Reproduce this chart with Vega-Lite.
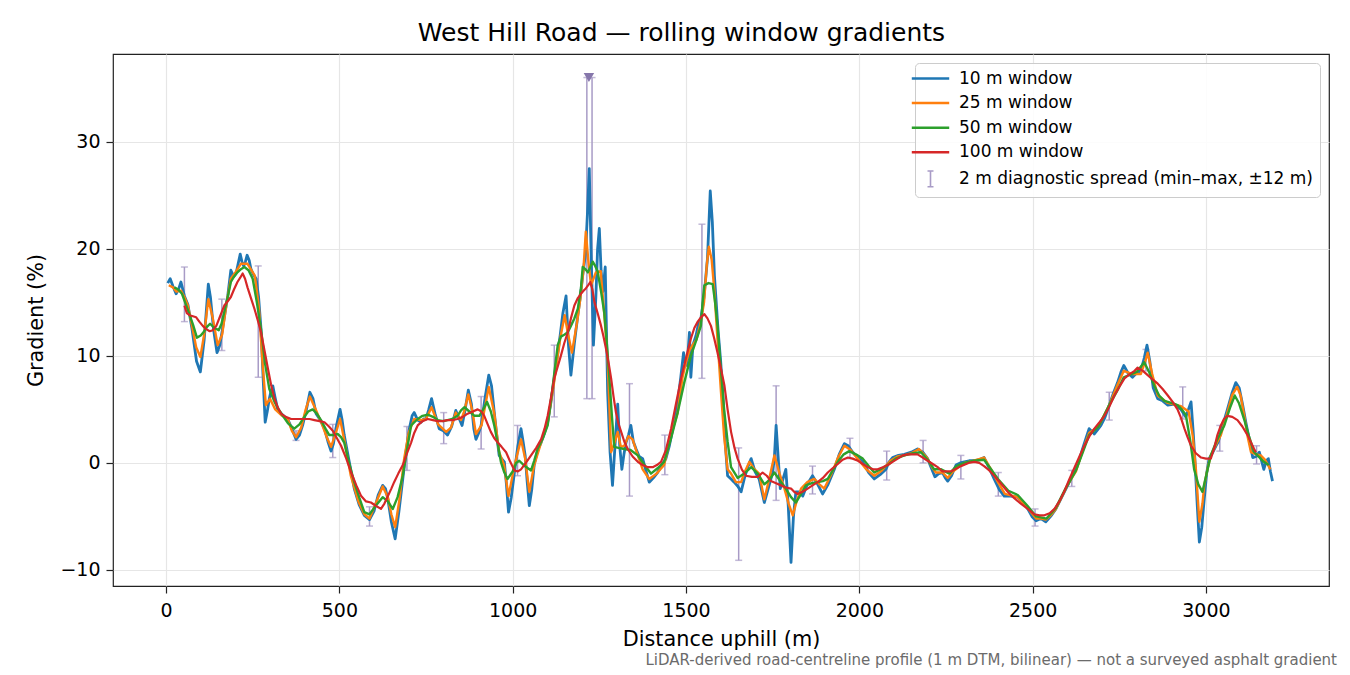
{
  "$schema": "https://vega.github.io/schema/vega-lite/v6.json",
  "background": "white",
  "padding": {"left": 25, "top": 21, "right": 10, "bottom": 4},
  "title": {
    "text": "West Hill Road — rolling window gradients",
    "fontSize": 25,
    "fontWeight": "normal",
    "color": "#000000",
    "anchor": "middle",
    "offset": 7
  },
  "datasets": {
    "w10": [
      {"d":5,"g":16.8},{"d":12,"g":17.2},{"d":20,"g":16.5},{"d":29,"g":15.8},{"d":37,"g":16.3},{"d":43,"g":16.9},{"d":53,"g":15.6},{"d":63,"g":14.8},{"d":75,"g":12.5},{"d":88,"g":9.5},{"d":99,"g":8.5},{"d":110,"g":11.5},{"d":122,"g":16.7},{"d":128,"g":15.5},{"d":137,"g":12.5},{"d":147,"g":10.3},{"d":155,"g":11.0},{"d":163,"g":12.5},{"d":170,"g":14.0},{"d":178,"g":15.6},{"d":187,"g":18.0},{"d":195,"g":17.4},{"d":202,"g":17.7},{"d":208,"g":18.6},{"d":214,"g":19.5},{"d":219,"g":18.8},{"d":224,"g":18.4},{"d":229,"g":18.8},{"d":234,"g":19.4},{"d":240,"g":18.9},{"d":245,"g":18.1},{"d":252,"g":17.6},{"d":260,"g":17.2},{"d":267,"g":15.5},{"d":274,"g":12.5},{"d":280,"g":8.0},{"d":286,"g":3.8},{"d":292,"g":4.8},{"d":298,"g":6.0},{"d":303,"g":6.7},{"d":308,"g":7.2},{"d":314,"g":6.2},{"d":322,"g":5.0},{"d":335,"g":4.5},{"d":351,"g":4.1},{"d":363,"g":3.2},{"d":375,"g":2.2},{"d":385,"g":2.6},{"d":394,"g":3.5},{"d":405,"g":5.0},{"d":415,"g":6.6},{"d":424,"g":6.0},{"d":433,"g":4.6},{"d":445,"g":4.0},{"d":457,"g":3.2},{"d":467,"g":2.0},{"d":476,"g":1.1},{"d":483,"g":1.8},{"d":490,"g":3.2},{"d":502,"g":5.0},{"d":508,"g":4.0},{"d":514,"g":2.6},{"d":528,"g":0.2},{"d":543,"g":-2.4},{"d":557,"g":-3.9},{"d":572,"g":-4.9},{"d":587,"g":-5.3},{"d":600,"g":-4.5},{"d":612,"g":-3.0},{"d":625,"g":-2.1},{"d":633,"g":-2.4},{"d":640,"g":-3.4},{"d":650,"g":-5.5},{"d":661,"g":-7.1},{"d":672,"g":-4.5},{"d":683,"g":-1.5},{"d":692,"g":1.0},{"d":702,"g":3.2},{"d":710,"g":4.4},{"d":716,"g":4.7},{"d":726,"g":4.0},{"d":736,"g":3.8},{"d":743,"g":4.1},{"d":750,"g":4.1},{"d":758,"g":5.0},{"d":766,"g":6.0},{"d":776,"g":4.6},{"d":788,"g":3.2},{"d":800,"g":3.0},{"d":812,"g":2.6},{"d":824,"g":3.4},{"d":836,"g":4.9},{"d":845,"g":4.2},{"d":854,"g":3.5},{"d":863,"g":5.0},{"d":872,"g":6.8},{"d":881,"g":5.5},{"d":888,"g":3.2},{"d":894,"g":2.2},{"d":902,"g":2.8},{"d":909,"g":3.5},{"d":920,"g":6.0},{"d":931,"g":8.2},{"d":939,"g":7.2},{"d":947,"g":4.7},{"d":954,"g":2.6},{"d":961,"g":0.7},{"d":968,"g":0.4},{"d":976,"g":0.1},{"d":982,"g":-2.0},{"d":988,"g":-4.6},{"d":996,"g":-3.2},{"d":1005,"g":-0.9},{"d":1015,"g":1.6},{"d":1024,"g":3.2},{"d":1030,"g":2.0},{"d":1036,"g":0.7},{"d":1042,"g":-1.8},{"d":1048,"g":-4.0},{"d":1055,"g":-2.5},{"d":1062,"g":-0.2},{"d":1072,"g":1.2},{"d":1082,"g":1.9},{"d":1092,"g":2.8},{"d":1101,"g":3.8},{"d":1110,"g":5.6},{"d":1118,"g":7.5},{"d":1128,"g":9.8},{"d":1137,"g":11.9},{"d":1145,"g":14.0},{"d":1154,"g":15.6},{"d":1161,"g":11.0},{"d":1168,"g":8.2},{"d":1178,"g":11.2},{"d":1188,"g":13.8},{"d":1195,"g":15.5},{"d":1202,"g":17.5},{"d":1210,"g":19.5},{"d":1216,"g":23.5},{"d":1221,"g":27.5},{"d":1226,"g":20.0},{"d":1233,"g":11.0},{"d":1240,"g":15.5},{"d":1245,"g":20.0},{"d":1250,"g":21.9},{"d":1255,"g":18.0},{"d":1260,"g":16.0},{"d":1267,"g":18.3},{"d":1274,"g":6.6},{"d":1281,"g":1.0},{"d":1288,"g":-2.1},{"d":1295,"g":1.5},{"d":1303,"g":5.5},{"d":1309,"g":1.5},{"d":1315,"g":-0.6},{"d":1321,"g":0.8},{"d":1327,"g":1.9},{"d":1334,"g":2.6},{"d":1341,"g":3.5},{"d":1348,"g":2.0},{"d":1356,"g":1.3},{"d":1365,"g":0.6},{"d":1375,"g":0.4},{"d":1385,"g":-0.8},{"d":1394,"g":-1.8},{"d":1406,"g":-1.4},{"d":1418,"g":-0.9},{"d":1430,"g":-0.2},{"d":1442,"g":0.4},{"d":1452,"g":1.6},{"d":1462,"g":3.2},{"d":1470,"g":4.5},{"d":1476,"g":5.7},{"d":1485,"g":8.0},{"d":1493,"g":10.3},{"d":1498,"g":9.3},{"d":1503,"g":9.1},{"d":1510,"g":12.2},{"d":1514,"g":8.0},{"d":1520,"g":11.0},{"d":1529,"g":11.9},{"d":1536,"g":13.0},{"d":1543,"g":13.5},{"d":1552,"g":15.5},{"d":1562,"g":19.1},{"d":1570,"g":25.4},{"d":1576,"g":22.5},{"d":1582,"g":17.5},{"d":1593,"g":12.2},{"d":1600,"g":9.5},{"d":1606,"g":6.6},{"d":1613,"g":2.0},{"d":1620,"g":-1.2},{"d":1630,"g":-1.5},{"d":1639,"g":-1.8},{"d":1650,"g":-2.2},{"d":1659,"g":-2.7},{"d":1668,"g":-1.5},{"d":1678,"g":-0.4},{"d":1688,"g":0.4},{"d":1699,"g":-0.8},{"d":1711,"g":-1.5},{"d":1726,"g":-3.7},{"d":1738,"g":-2.3},{"d":1750,"g":-0.9},{"d":1755,"g":0.5},{"d":1760,"g":3.5},{"d":1766,"g":0.5},{"d":1772,"g":-2.4},{"d":1780,"g":-1.5},{"d":1788,"g":-0.6},{"d":1795,"g":-4.0},{"d":1803,"g":-9.3},{"d":1810,"g":-5.0},{"d":1817,"g":-2.7},{"d":1827,"g":-2.7},{"d":1837,"g":-3.1},{"d":1850,"g":-2.0},{"d":1865,"g":-1.2},{"d":1880,"g":-2.0},{"d":1894,"g":-2.9},{"d":1910,"g":-2.0},{"d":1928,"g":-0.6},{"d":1942,"g":0.8},{"d":1957,"g":1.8},{"d":1968,"g":1.6},{"d":1981,"g":1.0},{"d":1995,"g":0.5},{"d":2010,"g":0.1},{"d":2027,"g":-0.9},{"d":2043,"g":-1.5},{"d":2060,"g":-1.1},{"d":2077,"g":-0.6},{"d":2086,"g":0.1},{"d":2096,"g":0.5},{"d":2113,"g":0.7},{"d":2130,"g":0.8},{"d":2150,"g":1.0},{"d":2168,"g":1.3},{"d":2183,"g":1.0},{"d":2197,"g":0.4},{"d":2208,"g":-0.5},{"d":2218,"g":-1.3},{"d":2229,"g":-1.0},{"d":2240,"g":-0.9},{"d":2248,"g":-1.4},{"d":2255,"g":-1.7},{"d":2266,"g":-1.2},{"d":2279,"g":-0.2},{"d":2291,"g":0.0},{"d":2303,"g":0.1},{"d":2317,"g":0.2},{"d":2332,"g":0.2},{"d":2346,"g":0.3},{"d":2360,"g":0.5},{"d":2375,"g":-0.5},{"d":2389,"g":-1.5},{"d":2404,"g":-2.5},{"d":2418,"g":-3.1},{"d":2437,"g":-3.1},{"d":2457,"g":-3.2},{"d":2472,"g":-3.7},{"d":2486,"g":-4.3},{"d":2498,"g":-5.0},{"d":2510,"g":-5.4},{"d":2524,"g":-5.2},{"d":2538,"g":-5.5},{"d":2552,"g":-5.0},{"d":2567,"g":-4.3},{"d":2584,"g":-3.2},{"d":2601,"g":-2.1},{"d":2613,"g":-1.3},{"d":2625,"g":-0.6},{"d":2635,"g":0.3},{"d":2644,"g":1.3},{"d":2654,"g":2.3},{"d":2663,"g":3.2},{"d":2678,"g":2.7},{"d":2690,"g":3.2},{"d":2697,"g":3.5},{"d":2708,"g":4.2},{"d":2721,"g":5.4},{"d":2733,"g":6.5},{"d":2745,"g":7.5},{"d":2755,"g":8.5},{"d":2763,"g":9.1},{"d":2775,"g":8.4},{"d":2788,"g":8.0},{"d":2800,"g":8.4},{"d":2812,"g":8.6},{"d":2822,"g":9.8},{"d":2830,"g":11.0},{"d":2838,"g":9.5},{"d":2848,"g":7.0},{"d":2861,"g":6.0},{"d":2875,"g":5.8},{"d":2890,"g":5.4},{"d":2909,"g":5.5},{"d":2928,"g":5.0},{"d":2942,"g":4.3},{"d":2957,"g":5.7},{"d":2963,"g":3.0},{"d":2968,"g":0.4},{"d":2975,"g":-4.0},{"d":2981,"g":-7.4},{"d":2988,"g":-6.0},{"d":2995,"g":-3.4},{"d":3002,"g":-1.0},{"d":3009,"g":0.4},{"d":3020,"g":1.0},{"d":3029,"g":1.6},{"d":3036,"g":2.0},{"d":3043,"g":2.9},{"d":3052,"g":3.9},{"d":3062,"g":5.0},{"d":3075,"g":6.5},{"d":3086,"g":7.5},{"d":3096,"g":7.0},{"d":3106,"g":5.4},{"d":3115,"g":3.8},{"d":3125,"g":2.2},{"d":3135,"g":0.5},{"d":3145,"g":0.6},{"d":3154,"g":1.0},{"d":3162,"g":0.0},{"d":3167,"g":-0.6},{"d":3174,"g":0.2},{"d":3180,"g":0.4},{"d":3186,"g":-0.8},{"d":3192,"g":-1.7}
    ],
    "w25": [
      {"d":8,"g":16.6},{"d":20,"g":16.4},{"d":30,"g":16.0},{"d":43,"g":16.1},{"d":53,"g":15.5},{"d":63,"g":14.7},{"d":75,"g":12.8},{"d":87,"g":10.8},{"d":99,"g":9.9},{"d":110,"g":12.0},{"d":122,"g":15.3},{"d":135,"g":13.5},{"d":149,"g":11.0},{"d":162,"g":12.0},{"d":175,"g":15.0},{"d":187,"g":17.2},{"d":200,"g":17.8},{"d":216,"g":18.6},{"d":235,"g":18.6},{"d":256,"g":17.5},{"d":268,"g":14.5},{"d":278,"g":9.5},{"d":288,"g":5.4},{"d":300,"g":6.0},{"d":315,"g":5.0},{"d":335,"g":4.4},{"d":351,"g":4.1},{"d":363,"g":3.0},{"d":375,"g":2.4},{"d":390,"g":3.3},{"d":403,"g":5.0},{"d":415,"g":6.2},{"d":433,"g":4.9},{"d":450,"g":3.6},{"d":465,"g":2.3},{"d":476,"g":1.5},{"d":490,"g":2.8},{"d":502,"g":4.1},{"d":515,"g":2.0},{"d":533,"g":-1.2},{"d":555,"g":-3.6},{"d":572,"g":-4.8},{"d":587,"g":-5.2},{"d":605,"g":-3.8},{"d":625,"g":-2.2},{"d":640,"g":-3.2},{"d":650,"g":-4.8},{"d":661,"g":-6.0},{"d":673,"g":-3.5},{"d":687,"g":0.4},{"d":700,"g":2.8},{"d":716,"g":4.1},{"d":736,"g":4.0},{"d":750,"g":4.1},{"d":766,"g":5.2},{"d":785,"g":3.6},{"d":808,"g":2.9},{"d":822,"g":3.3},{"d":836,"g":4.7},{"d":851,"g":4.0},{"d":860,"g":4.8},{"d":872,"g":6.4},{"d":884,"g":4.8},{"d":894,"g":2.7},{"d":910,"g":3.5},{"d":931,"g":7.1},{"d":947,"g":4.6},{"d":961,"g":1.0},{"d":975,"g":-0.2},{"d":988,"g":-3.1},{"d":1005,"g":-0.3},{"d":1024,"g":2.2},{"d":1036,"g":0.4},{"d":1048,"g":-2.7},{"d":1062,"g":-0.2},{"d":1082,"g":1.9},{"d":1101,"g":3.8},{"d":1118,"g":7.2},{"d":1137,"g":11.6},{"d":1150,"g":13.8},{"d":1160,"g":12.0},{"d":1171,"g":10.3},{"d":1185,"g":13.0},{"d":1195,"g":15.3},{"d":1204,"g":18.0},{"d":1211,"g":21.6},{"d":1218,"g":19.0},{"d":1226,"g":16.6},{"d":1240,"g":17.8},{"d":1254,"g":17.9},{"d":1264,"g":14.0},{"d":1274,"g":9.7},{"d":1284,"g":1.0},{"d":1293,"g":1.8},{"d":1303,"g":2.9},{"d":1312,"g":1.5},{"d":1322,"g":1.6},{"d":1334,"g":2.5},{"d":1346,"g":2.2},{"d":1360,"g":0.8},{"d":1375,"g":-0.6},{"d":1394,"g":-1.5},{"d":1415,"g":-1.0},{"d":1437,"g":-0.2},{"d":1456,"g":2.5},{"d":1476,"g":4.7},{"d":1490,"g":8.0},{"d":1500,"g":9.4},{"d":1510,"g":10.5},{"d":1519,"g":11.0},{"d":1530,"g":11.5},{"d":1543,"g":13.2},{"d":1552,"g":15.0},{"d":1560,"g":18.5},{"d":1566,"g":20.2},{"d":1574,"g":19.0},{"d":1582,"g":16.0},{"d":1591,"g":11.5},{"d":1601,"g":6.6},{"d":1610,"g":2.5},{"d":1620,"g":-0.6},{"d":1630,"g":-1.0},{"d":1644,"g":-1.8},{"d":1659,"g":-1.8},{"d":1670,"g":-0.8},{"d":1683,"g":0.1},{"d":1695,"g":-0.5},{"d":1711,"g":-1.0},{"d":1726,"g":-3.4},{"d":1740,"g":-1.5},{"d":1755,"g":0.7},{"d":1770,"g":-1.0},{"d":1784,"g":-2.4},{"d":1796,"g":-3.8},{"d":1808,"g":-4.9},{"d":1820,"g":-3.5},{"d":1832,"g":-2.4},{"d":1850,"g":-1.8},{"d":1870,"g":-1.5},{"d":1885,"g":-2.0},{"d":1899,"g":-2.4},{"d":1920,"g":-1.0},{"d":1940,"g":0.6},{"d":1957,"g":1.6},{"d":1975,"g":1.2},{"d":2000,"g":0.2},{"d":2020,"g":-0.6},{"d":2043,"g":-1.2},{"d":2065,"g":-0.7},{"d":2090,"g":0.2},{"d":2110,"g":0.6},{"d":2130,"g":0.7},{"d":2150,"g":0.9},{"d":2172,"g":1.3},{"d":2195,"g":0.5},{"d":2210,"g":-0.4},{"d":2221,"g":-0.9},{"d":2240,"g":-0.9},{"d":2255,"g":-1.4},{"d":2270,"g":-0.8},{"d":2303,"g":0.0},{"d":2330,"g":0.2},{"d":2360,"g":0.5},{"d":2380,"g":-0.6},{"d":2400,"g":-1.8},{"d":2420,"g":-2.9},{"d":2457,"g":-3.2},{"d":2485,"g":-4.2},{"d":2510,"g":-5.2},{"d":2525,"g":-5.2},{"d":2538,"g":-5.3},{"d":2552,"g":-4.9},{"d":2567,"g":-4.3},{"d":2600,"g":-2.1},{"d":2625,"g":-0.8},{"d":2645,"g":1.2},{"d":2663,"g":2.8},{"d":2690,"g":3.4},{"d":2721,"g":5.4},{"d":2745,"g":7.3},{"d":2763,"g":8.6},{"d":2788,"g":8.3},{"d":2812,"g":8.3},{"d":2825,"g":9.5},{"d":2832,"g":10.3},{"d":2845,"g":8.3},{"d":2861,"g":6.3},{"d":2890,"g":5.6},{"d":2928,"g":5.3},{"d":2950,"g":4.8},{"d":2962,"g":2.5},{"d":2971,"g":-0.6},{"d":2981,"g":-5.5},{"d":2990,"g":-3.8},{"d":2995,"g":-2.1},{"d":3005,"g":-0.5},{"d":3014,"g":0.7},{"d":3030,"g":1.8},{"d":3043,"g":2.6},{"d":3060,"g":4.5},{"d":3075,"g":6.3},{"d":3090,"g":7.1},{"d":3100,"g":6.3},{"d":3110,"g":4.5},{"d":3120,"g":2.5},{"d":3130,"g":1.0},{"d":3145,"g":0.8},{"d":3158,"g":0.7},{"d":3170,"g":0.3},{"d":3186,"g":-0.6}
    ],
    "w50": [
      {"d":24,"g":16.4},{"d":35,"g":16.2},{"d":46,"g":15.8},{"d":55,"g":15.0},{"d":65,"g":14.1},{"d":78,"g":12.9},{"d":89,"g":11.7},{"d":100,"g":11.9},{"d":108,"g":12.2},{"d":118,"g":12.7},{"d":127,"g":13.0},{"d":140,"g":12.6},{"d":152,"g":12.4},{"d":160,"g":13.0},{"d":168,"g":14.1},{"d":178,"g":15.5},{"d":187,"g":16.9},{"d":196,"g":17.4},{"d":206,"g":17.8},{"d":216,"g":18.1},{"d":226,"g":18.3},{"d":238,"g":18.0},{"d":250,"g":17.2},{"d":262,"g":15.0},{"d":274,"g":12.5},{"d":286,"g":9.2},{"d":298,"g":6.9},{"d":313,"g":5.7},{"d":325,"g":5.0},{"d":337,"g":4.4},{"d":352,"g":3.7},{"d":370,"g":3.2},{"d":385,"g":3.6},{"d":399,"g":4.3},{"d":410,"g":4.8},{"d":423,"g":5.0},{"d":435,"g":4.6},{"d":447,"g":4.0},{"d":460,"g":3.2},{"d":471,"g":2.6},{"d":483,"g":2.6},{"d":495,"g":2.7},{"d":505,"g":2.4},{"d":514,"g":1.9},{"d":528,"g":0.0},{"d":543,"g":-1.8},{"d":558,"g":-3.3},{"d":572,"g":-4.6},{"d":587,"g":-4.8},{"d":605,"g":-4.0},{"d":625,"g":-3.2},{"d":640,"g":-3.6},{"d":654,"g":-4.3},{"d":668,"g":-3.2},{"d":683,"g":-1.2},{"d":695,"g":1.2},{"d":707,"g":3.5},{"d":726,"g":4.1},{"d":740,"g":4.4},{"d":755,"g":4.5},{"d":770,"g":4.3},{"d":784,"g":4.0},{"d":800,"g":3.9},{"d":812,"g":4.0},{"d":826,"g":4.1},{"d":841,"g":4.4},{"d":851,"g":4.9},{"d":861,"g":5.2},{"d":875,"g":4.8},{"d":890,"g":4.4},{"d":904,"g":4.4},{"d":915,"g":5.0},{"d":926,"g":5.7},{"d":937,"g":4.8},{"d":947,"g":3.5},{"d":957,"g":1.8},{"d":966,"g":0.1},{"d":976,"g":-0.9},{"d":985,"g":-1.5},{"d":1000,"g":-0.8},{"d":1010,"g":0.0},{"d":1019,"g":0.2},{"d":1035,"g":-0.3},{"d":1053,"g":-0.7},{"d":1062,"g":0.2},{"d":1072,"g":1.3},{"d":1087,"g":2.3},{"d":1101,"g":3.5},{"d":1115,"g":7.0},{"d":1130,"g":11.0},{"d":1139,"g":11.8},{"d":1150,"g":12.0},{"d":1159,"g":12.2},{"d":1168,"g":12.8},{"d":1178,"g":13.5},{"d":1188,"g":14.4},{"d":1197,"g":16.3},{"d":1202,"g":18.3},{"d":1210,"g":18.1},{"d":1217,"g":17.8},{"d":1224,"g":18.3},{"d":1231,"g":18.8},{"d":1238,"g":18.4},{"d":1245,"g":17.9},{"d":1255,"g":16.0},{"d":1264,"g":14.1},{"d":1272,"g":11.0},{"d":1279,"g":7.9},{"d":1286,"g":4.5},{"d":1293,"g":1.5},{"d":1305,"g":1.4},{"d":1322,"g":1.3},{"d":1340,"g":1.2},{"d":1361,"g":0.7},{"d":1380,"g":-0.2},{"d":1399,"g":-1.0},{"d":1418,"g":-0.5},{"d":1437,"g":0.1},{"d":1456,"g":2.2},{"d":1476,"g":4.7},{"d":1495,"g":7.5},{"d":1514,"g":10.0},{"d":1530,"g":11.5},{"d":1543,"g":12.8},{"d":1548,"g":15.0},{"d":1553,"g":16.6},{"d":1565,"g":16.8},{"d":1577,"g":16.7},{"d":1584,"g":15.0},{"d":1591,"g":12.8},{"d":1600,"g":9.0},{"d":1610,"g":5.0},{"d":1620,"g":2.0},{"d":1630,"g":-0.4},{"d":1649,"g":-1.4},{"d":1668,"g":-1.0},{"d":1688,"g":-0.4},{"d":1707,"g":-1.0},{"d":1726,"g":-2.0},{"d":1740,"g":-1.6},{"d":1755,"g":-0.9},{"d":1770,"g":-1.6},{"d":1788,"g":-2.4},{"d":1803,"g":-3.2},{"d":1817,"g":-3.7},{"d":1830,"g":-3.0},{"d":1846,"g":-2.1},{"d":1863,"g":-1.9},{"d":1880,"g":-1.8},{"d":1895,"g":-1.7},{"d":1909,"g":-1.5},{"d":1925,"g":-0.6},{"d":1938,"g":0.1},{"d":1955,"g":0.8},{"d":1971,"g":1.1},{"d":1990,"g":0.8},{"d":2010,"g":0.4},{"d":2027,"g":-0.3},{"d":2043,"g":-0.9},{"d":2060,"g":-0.6},{"d":2082,"g":-0.2},{"d":2105,"g":0.4},{"d":2130,"g":0.7},{"d":2155,"g":0.9},{"d":2178,"g":1.0},{"d":2197,"g":0.3},{"d":2216,"g":-0.6},{"d":2236,"g":-0.6},{"d":2260,"g":-1.0},{"d":2280,"g":-0.3},{"d":2303,"g":0.0},{"d":2330,"g":0.2},{"d":2360,"g":0.3},{"d":2380,"g":-0.6},{"d":2400,"g":-1.5},{"d":2430,"g":-2.6},{"d":2457,"g":-3.0},{"d":2485,"g":-4.0},{"d":2510,"g":-5.0},{"d":2540,"g":-5.2},{"d":2567,"g":-4.2},{"d":2595,"g":-2.4},{"d":2625,"g":-0.7},{"d":2645,"g":1.0},{"d":2663,"g":2.6},{"d":2690,"g":3.4},{"d":2721,"g":5.4},{"d":2745,"g":6.8},{"d":2763,"g":8.0},{"d":2785,"g":8.3},{"d":2800,"g":8.5},{"d":2822,"g":9.4},{"d":2836,"g":8.5},{"d":2851,"g":7.2},{"d":2865,"g":6.3},{"d":2880,"g":5.8},{"d":2900,"g":5.6},{"d":2918,"g":5.4},{"d":2930,"g":5.0},{"d":2942,"g":4.5},{"d":2955,"g":2.0},{"d":2966,"g":-0.6},{"d":2978,"g":-2.0},{"d":2990,"g":-2.7},{"d":3002,"g":-1.0},{"d":3014,"g":0.7},{"d":3030,"g":2.0},{"d":3053,"g":3.5},{"d":3070,"g":5.2},{"d":3083,"g":6.3},{"d":3095,"g":5.6},{"d":3110,"g":4.1},{"d":3125,"g":2.4},{"d":3139,"g":1.0},{"d":3155,"g":0.5},{"d":3167,"g":0.1},{"d":3181,"g":-0.2}
    ],
    "w100": [
      {"d":53,"g":14.7},{"d":60,"g":14.0},{"d":68,"g":13.8},{"d":87,"g":13.6},{"d":96,"g":13.2},{"d":106,"g":12.8},{"d":116,"g":12.5},{"d":126,"g":12.3},{"d":135,"g":12.4},{"d":145,"g":12.8},{"d":156,"g":13.7},{"d":168,"g":14.7},{"d":178,"g":15.1},{"d":187,"g":15.5},{"d":196,"g":16.2},{"d":206,"g":16.9},{"d":214,"g":17.3},{"d":221,"g":17.7},{"d":228,"g":17.2},{"d":235,"g":16.4},{"d":245,"g":15.4},{"d":255,"g":14.4},{"d":264,"g":13.4},{"d":274,"g":12.2},{"d":284,"g":10.5},{"d":294,"g":8.8},{"d":303,"g":7.3},{"d":313,"g":6.0},{"d":322,"g":5.2},{"d":332,"g":4.6},{"d":345,"g":4.3},{"d":361,"g":4.1},{"d":380,"g":4.1},{"d":399,"g":4.1},{"d":414,"g":4.1},{"d":428,"g":4.0},{"d":443,"g":3.9},{"d":457,"g":3.8},{"d":470,"g":3.4},{"d":481,"g":3.0},{"d":493,"g":2.3},{"d":505,"g":1.6},{"d":520,"g":0.4},{"d":534,"g":-0.9},{"d":549,"g":-2.1},{"d":563,"g":-3.1},{"d":577,"g":-3.6},{"d":591,"g":-3.7},{"d":605,"g":-4.0},{"d":620,"g":-4.3},{"d":630,"g":-3.8},{"d":640,"g":-3.1},{"d":650,"g":-2.4},{"d":658,"g":-1.8},{"d":670,"g":-1.0},{"d":683,"g":-0.2},{"d":695,"g":0.9},{"d":707,"g":1.9},{"d":716,"g":2.8},{"d":726,"g":3.5},{"d":740,"g":3.9},{"d":755,"g":4.1},{"d":770,"g":4.0},{"d":784,"g":3.9},{"d":798,"g":3.9},{"d":812,"g":4.0},{"d":826,"g":4.0},{"d":841,"g":4.1},{"d":856,"g":4.3},{"d":870,"g":4.6},{"d":885,"g":4.8},{"d":899,"g":5.0},{"d":910,"g":4.8},{"d":918,"g":4.4},{"d":928,"g":3.6},{"d":937,"g":2.9},{"d":947,"g":2.3},{"d":957,"g":1.9},{"d":968,"g":1.5},{"d":981,"g":1.0},{"d":993,"g":0.1},{"d":1005,"g":-0.7},{"d":1015,"g":-0.8},{"d":1024,"g":-0.6},{"d":1038,"g":0.0},{"d":1053,"g":0.7},{"d":1068,"g":1.4},{"d":1082,"g":2.2},{"d":1092,"g":3.2},{"d":1101,"g":4.4},{"d":1110,"g":6.0},{"d":1120,"g":7.9},{"d":1130,"g":9.0},{"d":1139,"g":10.0},{"d":1149,"g":11.2},{"d":1159,"g":12.2},{"d":1168,"g":13.5},{"d":1178,"g":14.7},{"d":1188,"g":15.4},{"d":1197,"g":15.8},{"d":1205,"g":16.1},{"d":1211,"g":16.3},{"d":1218,"g":16.6},{"d":1224,"g":16.9},{"d":1230,"g":16.2},{"d":1236,"g":15.0},{"d":1245,"g":14.0},{"d":1255,"g":12.8},{"d":1262,"g":11.8},{"d":1269,"g":10.7},{"d":1277,"g":9.3},{"d":1284,"g":7.9},{"d":1291,"g":6.2},{"d":1298,"g":4.7},{"d":1305,"g":3.7},{"d":1313,"g":2.9},{"d":1322,"g":2.0},{"d":1332,"g":1.3},{"d":1346,"g":0.6},{"d":1361,"g":0.1},{"d":1375,"g":-0.2},{"d":1390,"g":-0.4},{"d":1404,"g":-0.4},{"d":1416,"g":-0.2},{"d":1428,"g":0.1},{"d":1442,"g":1.2},{"d":1457,"g":3.2},{"d":1471,"g":5.5},{"d":1486,"g":7.9},{"d":1500,"g":9.8},{"d":1514,"g":11.6},{"d":1524,"g":12.6},{"d":1534,"g":13.2},{"d":1543,"g":13.6},{"d":1553,"g":13.9},{"d":1562,"g":13.5},{"d":1572,"g":12.8},{"d":1581,"g":11.7},{"d":1591,"g":10.3},{"d":1601,"g":8.8},{"d":1611,"g":7.2},{"d":1620,"g":5.0},{"d":1630,"g":2.9},{"d":1640,"g":1.4},{"d":1649,"g":0.4},{"d":1661,"g":-0.6},{"d":1673,"g":-1.2},{"d":1690,"g":-1.3},{"d":1707,"g":-1.3},{"d":1721,"g":-0.9},{"d":1733,"g":-1.2},{"d":1745,"g":-1.7},{"d":1760,"g":-1.9},{"d":1774,"g":-2.1},{"d":1788,"g":-2.3},{"d":1803,"g":-2.4},{"d":1812,"g":-2.7},{"d":1822,"g":-2.9},{"d":1836,"g":-2.7},{"d":1851,"g":-2.4},{"d":1865,"g":-2.1},{"d":1880,"g":-1.8},{"d":1895,"g":-1.4},{"d":1909,"g":-0.9},{"d":1923,"g":-0.5},{"d":1938,"g":-0.1},{"d":1952,"g":0.3},{"d":1967,"g":0.5},{"d":1981,"g":0.4},{"d":1996,"g":0.2},{"d":2010,"g":-0.1},{"d":2025,"g":-0.4},{"d":2040,"g":-0.6},{"d":2053,"g":-0.6},{"d":2068,"g":-0.4},{"d":2082,"g":-0.2},{"d":2096,"g":0.1},{"d":2111,"g":0.4},{"d":2126,"g":0.7},{"d":2140,"g":0.8},{"d":2155,"g":0.8},{"d":2168,"g":0.8},{"d":2183,"g":0.5},{"d":2197,"g":0.2},{"d":2212,"g":-0.1},{"d":2226,"g":-0.4},{"d":2240,"g":-0.8},{"d":2264,"g":-0.8},{"d":2293,"g":-0.3},{"d":2315,"g":0.0},{"d":2332,"g":0.1},{"d":2346,"g":0.0},{"d":2360,"g":-0.3},{"d":2375,"g":-0.7},{"d":2389,"g":-1.2},{"d":2408,"g":-1.9},{"d":2428,"g":-2.7},{"d":2447,"g":-3.3},{"d":2466,"g":-3.8},{"d":2486,"g":-4.3},{"d":2505,"g":-4.8},{"d":2520,"g":-4.9},{"d":2534,"g":-4.9},{"d":2549,"g":-4.7},{"d":2563,"g":-4.3},{"d":2577,"g":-3.6},{"d":2591,"g":-2.7},{"d":2605,"g":-1.6},{"d":2620,"g":-0.5},{"d":2635,"g":0.6},{"d":2649,"g":1.6},{"d":2664,"g":2.5},{"d":2678,"g":3.2},{"d":2693,"g":3.8},{"d":2707,"g":4.4},{"d":2722,"g":5.3},{"d":2736,"g":6.3},{"d":2750,"g":7.1},{"d":2765,"g":7.9},{"d":2780,"g":8.3},{"d":2794,"g":8.6},{"d":2803,"g":8.9},{"d":2818,"g":8.6},{"d":2832,"g":8.2},{"d":2846,"g":7.8},{"d":2861,"g":7.4},{"d":2875,"g":6.9},{"d":2890,"g":6.3},{"d":2904,"g":5.7},{"d":2918,"g":5.0},{"d":2928,"g":4.2},{"d":2938,"g":3.2},{"d":2947,"g":2.4},{"d":2957,"g":1.6},{"d":2971,"g":0.9},{"d":2986,"g":0.5},{"d":3000,"g":0.4},{"d":3014,"g":0.4},{"d":3024,"g":1.4},{"d":3033,"g":2.6},{"d":3043,"g":3.5},{"d":3052,"g":4.1},{"d":3062,"g":4.4},{"d":3076,"g":4.3},{"d":3091,"g":4.0},{"d":3105,"g":3.4},{"d":3120,"g":2.6},{"d":3130,"g":1.9},{"d":3139,"g":1.3},{"d":3144,"g":1.0}
    ],
    "spread": [
      {"d":53,"lo":13.2,"hi":18.3},{"d":161,"lo":10.5,"hi":15.3},{"d":266,"lo":8.0,"hi":18.4},{"d":375,"lo":2.1,"hi":3.0},{"d":481,"lo":0.5,"hi":3.6},{"d":587,"lo":-5.9,"hi":-4.1},{"d":695,"lo":-0.7,"hi":3.4},{"d":801,"lo":1.8,"hi":4.7},{"d":909,"lo":1.3,"hi":6.2},{"d":1014,"lo":-1.2,"hi":3.5},{"d":1120,"lo":4.3,"hi":11.0},{"d":1214,"lo":6.0,"hi":36.0},{"d":1229,"lo":6.0,"hi":36.0},{"d":1337,"lo":-3.1,"hi":7.4},{"d":1439,"lo":-1.1,"hi":2.6},{"d":1546,"lo":7.9,"hi":22.3},{"d":1652,"lo":-9.1,"hi":1.4},{"d":1760,"lo":-3.5,"hi":7.2},{"d":1865,"lo":-2.9,"hi":-0.3},{"d":1973,"lo":0.4,"hi":2.3},{"d":2079,"lo":-1.6,"hi":1.1},{"d":2184,"lo":0.0,"hi":2.1},{"d":2293,"lo":-1.5,"hi":0.7},{"d":2401,"lo":-3.1,"hi":-0.9},{"d":2507,"lo":-5.9,"hi":-4.3},{"d":2613,"lo":-2.2,"hi":-0.7},{"d":2721,"lo":4.0,"hi":6.6},{"d":2827,"lo":8.6,"hi":10.6},{"d":2933,"lo":4.1,"hi":7.1},{"d":3040,"lo":1.1,"hi":3.5},{"d":3146,"lo":-0.1,"hi":1.6}
    ],
    "clipped": [{"d":1220,"g":36.0}]
  },
  "vconcat": [
    {
      "width": 1216,
      "height": 532,
      "title": {
        "text": "LiDAR-derived road-centreline profile (1 m DTM, bilinear) — not a surveyed asphalt gradient",
        "orient": "bottom",
        "anchor": "end",
        "fontSize": 15,
        "fontWeight": "normal",
        "color": "#6b6b6b",
        "offset": 4,
        "dx": 8
      },
      "encoding": {
        "x": {
          "type": "quantitative",
          "scale": {"domain": [-153, 3355], "nice": false, "zero": false},
          "axis": {"title": "Distance uphill (m)", "values": [0, 500, 1000, 1500, 2000, 2500, 3000], "format": "d", "titlePadding": 9, "labelPadding": 8}
        },
        "y": {
          "type": "quantitative",
          "scale": {"domain": [-11.5, 38.2], "nice": false, "zero": false},
          "axis": {"title": "Gradient (%)", "values": [-10, 0, 10, 20, 30], "labelExpr": "replace(datum.label, '-', '−')", "titlePadding": 13}
        }
      },
      "layer": [
        {
          "data": {"name": "spread"},
          "mark": {"type": "rule", "strokeWidth": 1.5},
          "encoding": {
            "x": {"field": "d"},
            "y": {"field": "lo"},
            "y2": {"field": "hi"},
            "color": {"datum": "2 m diagnostic spread (min–max, ±12 m)"}
          }
        },
        {
          "data": {"name": "spread"},
          "mark": {"type": "tick", "orient": "horizontal", "size": 7, "thickness": 1.5},
          "encoding": {
            "x": {"field": "d"},
            "y": {"field": "lo"},
            "color": {"datum": "2 m diagnostic spread (min–max, ±12 m)"}
          }
        },
        {
          "data": {"name": "spread"},
          "mark": {"type": "tick", "orient": "horizontal", "size": 7, "thickness": 1.5},
          "encoding": {
            "x": {"field": "d"},
            "y": {"field": "hi"},
            "color": {"datum": "2 m diagnostic spread (min–max, ±12 m)"}
          }
        },
        {
          "data": {"name": "w10"},
          "mark": {"type": "line", "strokeWidth": 2.8, "strokeJoin": "round"},
          "encoding": {
            "x": {"field": "d"},
            "y": {"field": "g"},
            "color": {
              "datum": "10 m window",
              "type": "nominal",
              "scale": {
                "domain": ["10 m window", "25 m window", "50 m window", "100 m window", "2 m diagnostic spread (min–max, ±12 m)"],
                "range": ["#1f77b4", "#ff7f0e", "#2ca02c", "#d62728", "#a89bc6"]
              },
              "legend": {
                "title": null,
                "orient": "top-right",
                "offset": 9,
                "fillColor": "rgba(255,255,255,0.85)",
                "strokeColor": "#cccccc",
                "cornerRadius": 4,
                "padding": 7,
                "labelFontSize": 17,
                "labelLimit": 0,
                "labelOffset": 20,
                "rowPadding": 6.6,
                "symbolType": "stroke",
                "symbolSize": 1400,
                "symbolStrokeWidth": 2.5,
                "encode": {
                  "symbols": {
                    "update": {
                      "shape": {"signal": "datum.index === 4 ? 'M0,-0.42V0.42M-0.16,-0.42H0.16M-0.16,0.42H0.16' : 'stroke'"},
                      "strokeWidth": {"signal": "datum.index === 4 ? 1.6 : 2.5"}
                    }
                  }
                }
              }
            }
          }
        },
        {
          "data": {"name": "w25"},
          "mark": {"type": "line", "strokeWidth": 2.4, "strokeJoin": "round"},
          "encoding": {
            "x": {"field": "d"},
            "y": {"field": "g"},
            "color": {"datum": "25 m window"}
          }
        },
        {
          "data": {"name": "w50"},
          "mark": {"type": "line", "strokeWidth": 2.4, "strokeJoin": "round"},
          "encoding": {
            "x": {"field": "d"},
            "y": {"field": "g"},
            "color": {"datum": "50 m window"}
          }
        },
        {
          "data": {"name": "w100"},
          "mark": {"type": "line", "strokeWidth": 2.2, "strokeJoin": "round"},
          "encoding": {
            "x": {"field": "d"},
            "y": {"field": "g"},
            "color": {"datum": "100 m window"}
          }
        },
        {
          "data": {"name": "clipped"},
          "mark": {"type": "point", "shape": "triangle-down", "filled": true, "size": 110, "color": "#8677ab", "opacity": 1},
          "encoding": {
            "x": {"field": "d"},
            "y": {"field": "g"}
          }
        }
      ]
    }
  ],
  "config": {
    "font": "DejaVu Sans",
    "view": {"stroke": "#222222", "strokeWidth": 1.2},
    "axis": {
      "grid": true,
      "gridColor": "#e6e6e6",
      "gridWidth": 1.2,
      "domain": false,
      "tickColor": "#222222",
      "tickSize": 7,
      "tickWidth": 1.2,
      "labelFont": "DejaVu Sans",
      "labelFontSize": 19,
      "labelColor": "#000000",
      "labelPadding": 6,
      "titleFont": "DejaVu Sans",
      "titleFontSize": 20.8,
      "titleFontWeight": "normal",
      "titleColor": "#000000"
    },
    "legend": {"labelFont": "DejaVu Sans", "labelColor": "#000000"},
    "title": {"font": "DejaVu Sans"}
  }
}
